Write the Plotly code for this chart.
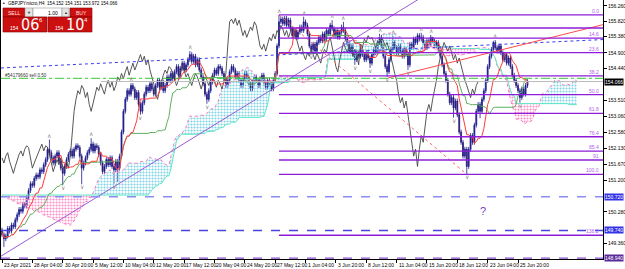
import plotly.graph_objects as go
from datetime import datetime, timedelta

# ---------------- data ----------------
header_text = "GBPJPYmicro,H4  154.152 154.151 153.972 154.066"
order_label = "#54179660 sell 0.50"
first_open = 149.75
closes = [
    149.62, 149.50, 149.58, 149.80, 149.72, 149.90, 149.85, 150.05, 150.20, 150.35,
    150.30, 150.50, 150.45, 150.70, 150.90, 151.10, 151.05, 151.25, 151.35, 151.30,
    151.50, 151.45, 151.65, 151.80, 152.10, 152.00, 151.85, 151.70, 151.90, 152.00,
    151.75, 151.55, 151.40, 151.60, 151.80, 151.95, 152.05, 151.90, 152.10, 152.20,
    152.15, 151.90, 151.55, 151.70, 151.85, 152.00, 152.10, 152.25, 152.05, 152.20,
    152.15, 151.95, 151.70, 151.45, 151.60, 151.80, 151.65, 151.85, 151.60, 151.50,
    151.75, 151.55, 151.90, 152.60, 153.20, 153.55, 153.80, 153.70, 153.95, 153.85,
    153.60, 153.75, 153.40, 153.20, 153.45, 153.70, 153.90, 153.80, 154.00, 153.85,
    153.70, 153.95, 154.10, 153.90, 154.05, 153.80, 153.95, 154.20, 154.10, 154.30,
    154.15, 154.35, 154.50, 154.25, 154.45, 154.60, 154.40, 154.55, 154.70, 154.85,
    154.65, 154.80, 154.55, 154.70, 154.40, 154.20, 154.00, 153.70, 153.55, 153.80,
    154.05, 154.25, 154.40, 154.30, 154.50, 154.45, 154.30, 154.15, 153.95, 154.10,
    154.35, 154.50, 154.40, 154.20, 154.30, 154.10, 153.95, 154.15, 154.30, 154.20,
    154.00, 153.85, 154.05, 154.20, 154.10, 153.95, 154.15, 154.25, 154.05, 153.90,
    154.10, 154.00, 153.85, 154.10, 154.30, 155.10, 155.80, 155.88, 155.75, 155.90,
    155.70, 155.85, 155.60, 155.40, 155.55, 155.35, 155.50, 155.65, 155.55, 155.80,
    155.70, 155.45, 155.10, 155.00, 155.15, 154.95, 155.20, 155.35, 155.25, 155.45,
    155.30, 155.55, 155.45, 155.70, 155.60, 155.40, 155.55, 155.35, 155.50, 155.65,
    155.55, 155.30, 155.15, 154.95, 155.10, 154.85, 154.70, 154.90, 154.80, 155.00,
    154.85, 154.70, 154.90, 154.75, 154.60, 154.85, 155.00, 154.90, 155.20, 155.35,
    155.10, 154.80, 154.50, 154.35, 154.70, 155.00, 155.20, 155.05, 154.90, 155.10,
    154.95, 154.80, 155.00, 154.85, 154.55, 155.15, 155.05, 155.30, 155.20, 155.40,
    155.30, 155.35, 155.20, 155.05, 155.25, 155.15, 155.35, 155.25, 155.10, 155.20,
    155.00, 154.80, 154.55, 154.30, 154.10, 153.70, 153.45, 153.60, 153.30, 153.50,
    153.10, 152.60, 152.30, 151.90, 152.10, 151.60, 152.10, 152.50, 152.30, 152.80,
    153.20, 153.40, 153.20, 153.55, 153.80, 154.10, 154.50, 154.80, 155.00, 155.20,
    155.05, 154.95, 155.10, 154.90, 154.70, 154.85, 154.60, 154.75, 154.50, 154.25,
    154.10, 153.95, 153.80, 153.60, 153.85, 153.70, 153.95, 154.066,
]
spike_highs = {25: 152.38, 47: 152.42, 68: 154.02, 99: 154.95, 146: 156.00, 159: 155.95,
               174: 155.85, 180: 155.80, 199: 155.45, 206: 155.40, 221: 155.48, 227: 155.32,
               259: 155.25}
spike_lows = {1: 149.26, 32: 151.05, 42: 151.08, 59: 151.10, 61: 151.15, 73: 153.10,
              108: 153.42, 163: 154.85, 186: 154.55, 194: 154.46, 203: 154.20, 214: 154.40,
              238: 153.02, 245: 151.37, 252: 153.00, 273: 153.45}
wick = 0.07
# leading part of the Ichimoku spans (depends on bars left of the window)
spanA_lead = [150.72, 150.72, 150.72, 150.66, 150.66, 150.60, 150.60, 150.60, 150.52, 150.52,
              150.48, 150.48, 150.48, 150.40, 150.40, 150.36, 150.36, 150.30, 150.30, 150.30,
              150.24, 150.24, 150.18, 150.18, 150.14, 150.14, 150.10, 150.08, 150.05, 150.02,
              150.00, 149.98, 149.95, 149.93, 149.92, 149.93]
spanB_steps = [(0, 77, 150.77)]

# drawn objects (time index, price)
purple_trend = [(0.5, 149.03), (218.8, 156.43)]
blue_trend = [(-0.5, 154.46), (299.4, 155.24)]
red_trend = [(203.5, 154.17), (299.4, 155.48)]
fib_anchor = [(146, 156.00), (245, 151.37)]
fib_levels = [0.0, 8.2, 14.6, 23.6, 38.2, 50.0, 61.8, 76.4, 85.4, 91.0, 100.0, 138.2]
fib_texts = ["0.0", "", "14.6", "23.6", "38.2", "50.0", "61.8", "76.4", "85.4", "91", "100.0", "138.2"]
order_price = 154.16
bid_price = 154.066
hlines = [(150.720, "#8C8CF2", "#3333E6"), (149.740, "#4646DC", "#3333E6"), (148.940, "#8A4FD0", "#5B2A99")]
ytick_vals = [156.26, 155.82, 155.38, 154.90, 154.44, 153.51, 153.06, 152.58, 152.13,
              151.67, 151.20, 150.28, 149.36]

# ---------------- derived ----------------
n = len(closes)
opens = [first_open] + closes[:-1]
H = [spike_highs.get(i, max(o, c) + wick) for i, (o, c) in enumerate(zip(opens, closes))]
L = [spike_lows.get(i, min(o, c) - wick) for i, (o, c) in enumerate(zip(opens, closes))]
H = [max(h, o, c) for h, o, c in zip(H, opens, closes)]
L = [min(l, o, c) for l, o, c in zip(L, opens, closes)]
x = list(range(n))


def mid(i0, i1):
    return (max(H[i0:i1 + 1]) + min(L[i0:i1 + 1])) / 2


tenkan = [mid(max(0, i - 8), i) for i in range(n)]
kijun = [mid(max(0, i - 25), i) for i in range(n)]
nf = n + 26
spanA = [None] * nf
spanB = [None] * nf
for i in range(n):
    spanA[i + 26] = (tenkan[i] + kijun[i]) / 2
    spanB[i + 26] = mid(max(0, i - 51), i)
for k, v in enumerate(spanA_lead):
    spanA[k] = v
for a, b, v in spanB_steps:
    for k in range(a, b + 1):
        spanB[k] = v

# bar times
def bar_times(count):
    t = datetime(2021, 4, 23, 12)
    out = []
    while len(out) < count:
        if t.weekday() < 5:
            out.append(t)
        t += timedelta(hours=4)
    return out

times = bar_times(nf)
tick_idx = list(range(0, 273, 16))
tick_lab = []
for i in tick_idx:
    t = times[i]
    if i == 0:
        tick_lab.append(f"{t.day} {t.strftime('%b')} {t.year}")
    else:
        tick_lab.append(f"{t.day} {t.strftime('%b')} {t.strftime('%H:%M')}")

XR = [-0.53, 316.8]
YR = [148.912, 156.434]

fig = go.Figure()

# ---- cloud ----
pts = []
for i in range(nf):
    pts.append((i, spanA[i], spanB[i]))
    if i < nf - 1:
        d0 = spanA[i] - spanB[i]
        d1 = spanA[i + 1] - spanB[i + 1]
        if d0 * d1 < 0:
            t = d0 / (d0 - d1)
            yc = spanA[i] + t * (spanA[i + 1] - spanA[i])
            pts.append((i + t, yc, yc))
runs = []
cur = [pts[0]]
cur_sign = None
for p in pts[1:]:
    d = p[1] - p[2]
    if abs(d) < 1e-12:
        cur.append(p)
        runs.append((cur_sign, cur))
        cur = [p]
        cur_sign = None
    else:
        s = 1 if d > 0 else -1
        if cur_sign is None:
            cur_sign = s
        cur.append(p)
runs.append((cur_sign, cur))
for s, run in runs:
    if len(run) < 2 or s is None:
        continue
    xs = [p[0] for p in run] + [p[0] for p in reversed(run)]
    ys = [p[1] for p in run] + [p[2] for p in reversed(run)]
    col = "#7FD3E6" if s > 0 else "#FF8CC6"
    fig.add_trace(go.Scatter(x=xs, y=ys, mode="lines", line=dict(width=0), fill="toself",
                             fillcolor="rgba(255,255,255,0)",
                             fillpattern=dict(shape=".", fgcolor=col, bgcolor="rgba(0,0,0,0)",
                                              size=3, solidity=0.4, fillmode="replace"),
                             hoverinfo="skip"))

fig.add_trace(go.Scatter(x=list(range(nf)), y=spanA, mode="lines",
                         line=dict(color="#FF7ABF", width=1, dash="dot")))
fig.add_trace(go.Scatter(x=list(range(nf)), y=spanB, mode="lines",
                         line=dict(color="#5CE6C4", width=1)))
fig.add_trace(go.Scatter(x=list(range(n - 26)), y=closes[26:], mode="lines",
                         line=dict(color="#444444", width=0.9)))
fig.add_trace(go.Scatter(x=x, y=kijun, mode="lines", line=dict(color="#5FAF5F", width=1)))
fig.add_trace(go.Scatter(x=x, y=tenkan, mode="lines", line=dict(color="#FF3B3B", width=1)))


def ray(p0, p1, x0, x1):
    (a, ya), (b, yb) = p0, p1
    s = (yb - ya) / (b - a)
    return [x0, x1], [ya + s * (x0 - a), ya + s * (x1 - a)]

# trend lines
xs, ys = ray(*purple_trend, XR[0], XR[1])
fig.add_trace(go.Scatter(x=xs, y=ys, mode="lines", line=dict(color="#9A5CD6", width=1)))
xs, ys = ray(*blue_trend, XR[0], XR[1])
fig.add_trace(go.Scatter(x=xs, y=ys, mode="lines", line=dict(color="#3B3BF0", width=1, dash="dot")))
xs, ys = ray(*red_trend, red_trend[0][0], XR[1])
fig.add_trace(go.Scatter(x=xs, y=ys, mode="lines", line=dict(color="#FF4A4A", width=1)))
fig.add_trace(go.Scatter(x=[fib_anchor[0][0], fib_anchor[1][0]], y=[fib_anchor[0][1], fib_anchor[1][1]],
                         mode="lines", line=dict(color="#FF6A6A", width=1, dash="dot")))

# fib horizontal levels
fhi, flo = fib_anchor[0][1], fib_anchor[1][1]
for lev, txt in zip(fib_levels, fib_texts):
    p = fhi - lev / 100 * (fhi - flo)
    fig.add_trace(go.Scatter(x=[fib_anchor[0][0], XR[1]], y=[p, p], mode="lines",
                             line=dict(color="#8E1CD9", width=1.3)))
    if txt:
        fig.add_annotation(x=0.996, xref="paper", y=p, yref="y", text=txt, showarrow=False,
                           xanchor="right", yanchor="bottom", yshift=-1,
                           font=dict(size=5, color="#B060F0", family="Liberation Sans"))

# horizontal lines
fig.add_trace(go.Scatter(x=XR, y=[order_price, order_price], mode="lines",
                         line=dict(color="#33CC33", width=1, dash="dashdot")))
fig.add_trace(go.Scatter(x=[52, XR[1]], y=[bid_price, bid_price], mode="lines",
                         line=dict(color="#BBBBBB", width=1)))
for p, lc, bc in hlines:
    fig.add_trace(go.Scatter(x=XR, y=[p, p], mode="lines",
                             line=dict(color=lc, width=1.3, dash="dash")))

# candles
fig.add_trace(go.Candlestick(x=x, open=opens, high=H, low=L, close=closes, whiskerwidth=0,
                             increasing=dict(line=dict(color="#1A1A8C", width=0.8), fillcolor="#1A1A8C"),
                             decreasing=dict(line=dict(color="#1A1A8C", width=0.8), fillcolor="#7A0000"),
                             hoverinfo="skip"))

# fractals
up_x, up_y, dn_x, dn_y = [], [], [], []
for i in range(2, n - 2):
    if H[i] > max(H[i - 2], H[i - 1], H[i + 1], H[i + 2]):
        up_x.append(i); up_y.append(H[i] + 0.1)
    if L[i] < min(L[i - 2], L[i - 1], L[i + 1], L[i + 2]):
        dn_x.append(i); dn_y.append(L[i] - 0.1)
fig.add_trace(go.Scatter(x=up_x, y=up_y, mode="text", text=["∧"] * len(up_x),
                         textposition="middle center", textfont=dict(size=6, color="#8C8C8C")))
fig.add_trace(go.Scatter(x=dn_x, y=dn_y, mode="text", text=["∨"] * len(dn_x),
                         textposition="middle center", textfont=dict(size=6, color="#8C8C8C")))

# ---------------- layout ----------------
fig.update_layout(
    width=625, height=269, margin=dict(l=1, r=22, t=0, b=10),
    paper_bgcolor="white", plot_bgcolor="white", showlegend=False,
    font=dict(family="Liberation Sans", size=5, color="black"),
    xaxis=dict(range=XR, showgrid=False, zeroline=False, showline=True, linecolor="black",
               linewidth=1, mirror=True, tickvals=tick_idx, ticks="outside", ticklen=3,
               tickcolor="black", showticklabels=False, rangeslider=dict(visible=False)),
    yaxis=dict(range=YR, side="right", showgrid=False, zeroline=False, showline=True,
               linecolor="black", linewidth=1, mirror=True, tickvals=ytick_vals,
               ticktext=[f"{v:.3f}" for v in ytick_vals], ticks="outside", ticklen=3,
               tickcolor="black", tickfont=dict(size=5, family="Liberation Sans", color="black")),
)

for i, lab in zip(tick_idx, tick_lab):
    fig.add_annotation(x=i, xref="x", y=0, yref="paper", text=lab, showarrow=False,
                       xanchor="left", yanchor="top", xshift=0, yshift=-1,
                       font=dict(size=5, family="Liberation Sans", color="black"))

# price boxes on the axis
boxes = [(bid_price, "#000000")] + [(p, bc) for p, lc, bc in hlines]
for p, bc in boxes:
    fig.add_annotation(x=1, xref="paper", y=p, yref="y", text=f"{p:.3f}", showarrow=False,
                       xanchor="left", yanchor="middle", xshift=1, bgcolor=bc, borderpad=0,
                       font=dict(size=5, family="Liberation Sans", color="white"))

# ---------------- one-click panel & header (pixel placement helpers) ----------------
PW, PH, PL = 602.0, 259.0, 1.0


def px(xv):
    return (xv - PL) / PW


def py(yv):
    return (PH - yv) / PH


def rect(x0, y0, x1, y1, fill, line):
    fig.add_shape(type="rect", xref="paper", yref="paper", x0=px(x0), x1=px(x1), y0=py(y1), y1=py(y0),
                  fillcolor=fill, line=dict(color=line, width=0.6), layer="above")


def label(xv, yv, txt, size, color, anchor="center", fam="Liberation Sans"):
    fig.add_annotation(x=px(xv), y=py(yv), xref="paper", yref="paper", text=txt, showarrow=False,
                       xanchor=anchor, yanchor="middle", font=dict(size=size, color=color, family=fam))

rect(3, 8, 25, 17, "#CC1010", "#8A0000")
rect(25, 8, 33, 17, "#E4E4E4", "#999999")
rect(33, 8, 62, 17, "#FFFFFF", "#999999")
rect(62, 8, 69, 17, "#E4E4E4", "#999999")
rect(70, 8, 92, 17, "#CC1010", "#8A0000")
rect(3, 17, 47, 32, "#CC1010", "#8A0000")
rect(48, 17, 92, 32, "#CC1010", "#8A0000")
label(14, 12.5, "SELL", 5, "#FFE0E0")
label(29, 12.5, "▼", 4, "#333333")
label(53, 12.5, "1.00", 5, "#000000")
label(65.5, 12.5, "▲", 4, "#333333")
label(81, 12.5, "BUY", 5, "#FFE0E0")
label(14, 27.5, "154", 5, "white")
label(30, 24.5, "06", 16, "white", fam="Liberation Sans Narrow, DejaVu Sans Condensed")
label(41, 20.5, "6", 6, "white")
label(59, 27.5, "154", 5, "white")
label(75, 24.5, "10", 16, "white", fam="Liberation Sans Narrow, DejaVu Sans Condensed")
label(85.5, 20.5, "4", 6, "white")
label(3, 3.5, "▲", 3.5, "#333333")
label(6, 3.5, header_text, 4.6, "#000000", anchor="left")
label(3, 75, order_label, 4.6, "#333333", anchor="left")
label(483, 211, "?", 11, "#7B3FBF")

fig.write_html("out.html")
